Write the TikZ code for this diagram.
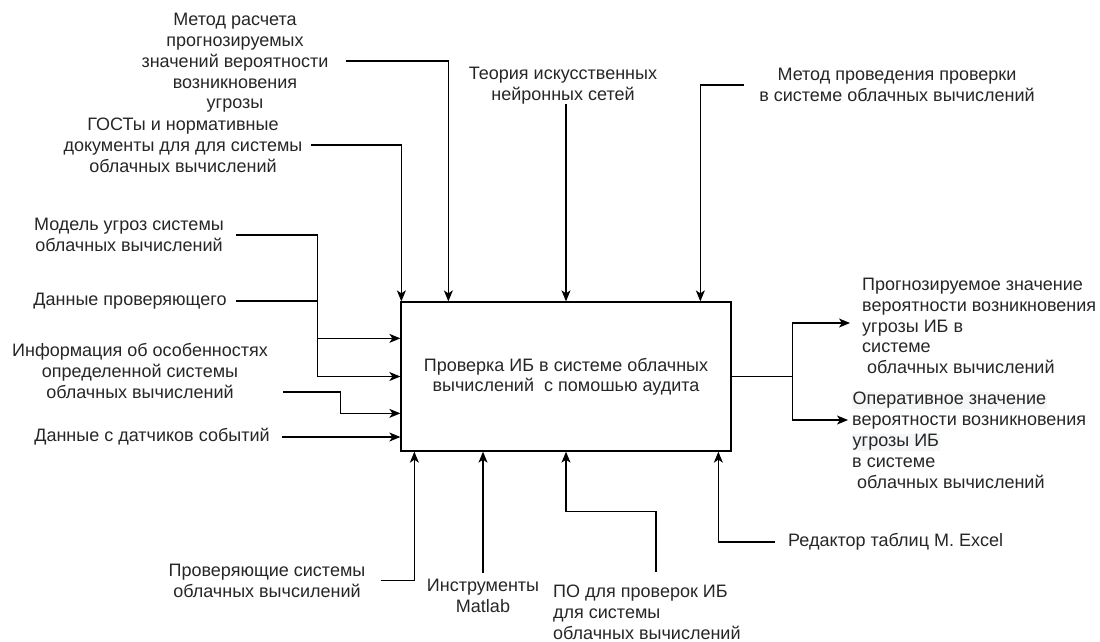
\documentclass[tikz,border=0pt]{standalone}
\usepackage{fontspec}
\setmainfont{Liberation Sans}
\usetikzlibrary{arrows.meta}
\definecolor{hlgray}{RGB}{245,246,247}
\newcommand\hlline[1]{{\setlength\fboxsep{0.5pt}\colorbox{hlgray}{#1}}}
\begin{document}
\begin{tikzpicture}[x=1pt,y=-1pt,
  lbl/.style={inner sep=0pt, align=center, text=black!85,
    font=\fontsize{18}{20.8}\selectfont},
  lbll/.style={lbl, align=left},
  proc/.style={draw, line width=1.3pt, inner sep=0pt, minimum width=330pt,
    minimum height=149pt, align=center, text=black!85,
    font=\fontsize{18}{20}\selectfont},
  flow/.style={line width=1.1pt, -{Stealth[length=11pt,width=9pt,inset=3pt]}},
  link/.style={line width=1.1pt}
]
\useasboundingbox (0,0) rectangle (1100,641);

% central activity block
\node[proc] (main) at (566,376.5) {Проверка ИБ в системе облачных\\вычислений\ \ с помошью аудита};

% controls (top)
\node[lbl] (mr) at (235,63) {Метод расчета\\прогнозируемых\\значений вероятности\\возникновения\\угрозы};
\node[lbl] (gost) at (183,145) {ГОСТы и нормативные\\документы для для системы\\облачных вычислений};
\node[lbl] (teo) at (563,85.5) {Теория искусственных\\нейронных сетей};
\node[lbl] (mp) at (897,85) {Метод проведения проверки\\в системе облачных вычислений};

% inputs (left)
\node[lbl] (model) at (129,235) {Модель угроз системы\\облачных вычислений};
\node[lbl] (dan) at (130,301) {Данные проверяющего};
\node[lbl] (info) at (140,371) {Информация об особенностях\\определенной системы\\облачных вычислений};
\node[lbl] (dat) at (152,437) {Данные с датчиков событий};

% outputs (right)
\node[lbll, anchor=west] (o1) at (862,326) {Прогнозируемое значение\\вероятности возникновения\\угрозы ИБ в\\системе\\\ облачных вычислений};
\node[lbll, anchor=west] (o2) at (852,440) {\hlline{Оперативное значение}\\вероятности возникновения\\\hlline{угрозы ИБ}\\в системе\\\ облачных вычислений};

% mechanisms (bottom)
\node[lbl] (pr) at (267,580.5) {Проверяющие системы\\облачных вычсилений};
\node[lbl] (ins) at (483,595.5) {Инструменты\\Matlab};
\node[lbll, anchor=west] (po) at (553,612) {ПО для проверок ИБ\\для системы\\облачных вычислений};
\node[lbll, anchor=west] (red) at (788,542) {Редактор таблиц М. Excel};

% control arrows
\draw[flow] ([xshift=17pt,yshift=2pt]mr.east) -| ([xshift=48pt]main.north west);
\draw[flow] ([xshift=8pt]gost.east) -| ([xshift=1pt]main.north west);
\draw[flow] (teo.south -| main.north) -- (main.north);
\draw[flow] ([xshift=-15pt]mp.west) -| ([xshift=300pt]main.north west);

% input arrows
\coordinate (j1) at ([xshift=-83pt]main.west);
\coordinate (j2) at ([xshift=-83pt,yshift=-37pt]main.north west);
\draw[flow] ([xshift=12pt]model.east) -| (j1) -- (main.west);
\draw[flow] ([xshift=9pt]dan.east) -| (j2) -- ([yshift=-37pt]main.north west);
\draw[flow] ([xshift=15pt,yshift=-21pt]info.east) -| ([xshift=-60pt,yshift=-112pt]main.north west) -- ([yshift=-112pt]main.north west);
\draw[flow] ([xshift=12pt]dat.east) -- (dat.east -| main.west);

% output arrows
\coordinate (sp) at ([xshift=61pt]main.east);
\draw[link] (main.east) -- (sp);
\draw[flow] (sp) |- ([xshift=-12pt,yshift=3pt]o1.west);
\draw[flow] (sp) |- ([xshift=-4pt,yshift=20pt]o2.west);

% mechanism arrows
\draw[flow] ([xshift=15pt]pr.east) -| ([xshift=14pt]main.south west);
\draw[flow] ([yshift=6pt]ins.north) -- (ins.north |- main.south);
\draw[flow] ([xshift=103pt,yshift=13pt]po.north west) |- ([yshift=-60pt]main.south) -- (main.south);
\draw[flow] ([xshift=-13pt]red.west) -| ([xshift=318pt]main.south west);
\end{tikzpicture}
\end{document}
